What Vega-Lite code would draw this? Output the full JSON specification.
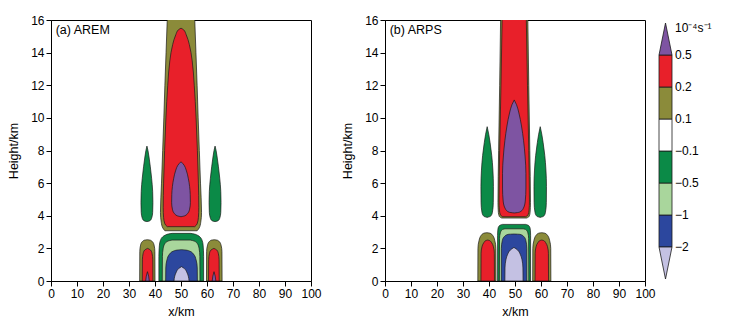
{
  "$schema": "https://vega.github.io/schema/vega-lite/v6.json",
  "padding": {"left": 7, "top": 13, "right": 0, "bottom": 0},
  "bounds": "full",
  "spacing": 1,
  "config": {
    "view": {"stroke": "#000", "strokeWidth": 1},
    "axis": {"labelFont": "Liberation Sans", "labelFontSize": 12, "titleFont": "Liberation Sans", "titleFontSize": 12.5, "titleFontWeight": "normal", "labelColor": "#000", "titleColor": "#000", "domainColor": "#000", "tickColor": "#000", "tickSize": 5, "grid": false, "labelPadding": 2, "labelOverlap": false, "labelFlush": false},
    "area": {"stroke": "#1a1a1a", "strokeWidth": 0.7},
    "text": {"font": "Liberation Sans", "fontSize": 12, "color": "#000"}
  },
  "datasets": {
    "s": [
      {"p":"a","id":"a1","c":"o","z":1,"y":3.08,"l":43.8,"r":56.2},
      {"p":"a","id":"a1","c":"o","z":1,"y":3.25,"l":43.0,"r":57.0},
      {"p":"a","id":"a1","c":"o","z":1,"y":3.6,"l":42.4,"r":57.6},
      {"p":"a","id":"a1","c":"o","z":1,"y":4.2,"l":42.1,"r":57.9},
      {"p":"a","id":"a1","c":"o","z":1,"y":6,"l":42.5,"r":57.5},
      {"p":"a","id":"a1","c":"o","z":1,"y":8,"l":42.95,"r":57.05},
      {"p":"a","id":"a1","c":"o","z":1,"y":10,"l":43.4,"r":56.6},
      {"p":"a","id":"a1","c":"o","z":1,"y":12,"l":43.8,"r":56.2},
      {"p":"a","id":"a1","c":"o","z":1,"y":14,"l":44.25,"r":55.75},
      {"p":"a","id":"a1","c":"o","z":1,"y":16,"l":44.7,"r":55.3},
      {"p":"a","id":"a1","c":"o","z":1,"y":16.5,"l":44.8,"r":55.2},

      {"p":"a","id":"a2","c":"r","z":2,"y":3.33,"l":44.7,"r":55.3},
      {"p":"a","id":"a2","c":"r","z":2,"y":3.5,"l":43.8,"r":56.2},
      {"p":"a","id":"a2","c":"r","z":2,"y":3.9,"l":43.3,"r":56.7},
      {"p":"a","id":"a2","c":"r","z":2,"y":4.5,"l":43.15,"r":56.85},
      {"p":"a","id":"a2","c":"r","z":2,"y":6,"l":43.3,"r":56.7},
      {"p":"a","id":"a2","c":"r","z":2,"y":8,"l":43.7,"r":56.3},
      {"p":"a","id":"a2","c":"r","z":2,"y":10,"l":44.2,"r":55.8},
      {"p":"a","id":"a2","c":"r","z":2,"y":12,"l":44.9,"r":55.1},
      {"p":"a","id":"a2","c":"r","z":2,"y":13.5,"l":45.7,"r":54.3},
      {"p":"a","id":"a2","c":"r","z":2,"y":14.5,"l":46.8,"r":53.2},
      {"p":"a","id":"a2","c":"r","z":2,"y":15.1,"l":48.0,"r":52.0},
      {"p":"a","id":"a2","c":"r","z":2,"y":15.4,"l":49.0,"r":51.0},
      {"p":"a","id":"a2","c":"r","z":2,"y":15.5,"l":50,"r":50},

      {"p":"a","id":"a3","c":"p","z":3,"y":3.94,"l":50,"r":50},
      {"p":"a","id":"a3","c":"p","z":3,"y":4.0,"l":48.5,"r":51.5},
      {"p":"a","id":"a3","c":"p","z":3,"y":4.15,"l":47.4,"r":52.6},
      {"p":"a","id":"a3","c":"p","z":3,"y":4.4,"l":46.7,"r":53.3},
      {"p":"a","id":"a3","c":"p","z":3,"y":4.8,"l":46.4,"r":53.6},
      {"p":"a","id":"a3","c":"p","z":3,"y":5.3,"l":46.45,"r":53.55},
      {"p":"a","id":"a3","c":"p","z":3,"y":5.8,"l":46.7,"r":53.3},
      {"p":"a","id":"a3","c":"p","z":3,"y":6.3,"l":47.2,"r":52.8},
      {"p":"a","id":"a3","c":"p","z":3,"y":6.8,"l":48.0,"r":52.0},
      {"p":"a","id":"a3","c":"p","z":3,"y":7.1,"l":48.8,"r":51.2},
      {"p":"a","id":"a3","c":"p","z":3,"y":7.31,"l":50,"r":50},

      {"p":"a","id":"a4","c":"g","z":1,"y":3.64,"l":36.9,"r":36.9},
      {"p":"a","id":"a4","c":"g","z":1,"y":3.7,"l":35.7,"r":38.1},
      {"p":"a","id":"a4","c":"g","z":1,"y":3.85,"l":35.1,"r":38.7},
      {"p":"a","id":"a4","c":"g","z":1,"y":4.2,"l":34.7,"r":39.1},
      {"p":"a","id":"a4","c":"g","z":1,"y":4.8,"l":34.6,"r":39.2},
      {"p":"a","id":"a4","c":"g","z":1,"y":5.5,"l":34.7,"r":39.1},
      {"p":"a","id":"a4","c":"g","z":1,"y":6.3,"l":35.1,"r":38.7},
      {"p":"a","id":"a4","c":"g","z":1,"y":7.0,"l":35.6,"r":38.2},
      {"p":"a","id":"a4","c":"g","z":1,"y":7.6,"l":36.1,"r":37.7},
      {"p":"a","id":"a4","c":"g","z":1,"y":8.0,"l":36.5,"r":37.3},
      {"p":"a","id":"a4","c":"g","z":1,"y":8.27,"l":36.9,"r":36.9},

      {"p":"a","id":"a5","c":"g","z":1,"y":3.64,"l":63.1,"r":63.1},
      {"p":"a","id":"a5","c":"g","z":1,"y":3.7,"l":61.9,"r":64.3},
      {"p":"a","id":"a5","c":"g","z":1,"y":3.85,"l":61.3,"r":64.9},
      {"p":"a","id":"a5","c":"g","z":1,"y":4.2,"l":60.9,"r":65.3},
      {"p":"a","id":"a5","c":"g","z":1,"y":4.8,"l":60.8,"r":65.4},
      {"p":"a","id":"a5","c":"g","z":1,"y":5.5,"l":60.9,"r":65.3},
      {"p":"a","id":"a5","c":"g","z":1,"y":6.3,"l":61.3,"r":64.9},
      {"p":"a","id":"a5","c":"g","z":1,"y":7.0,"l":61.8,"r":64.4},
      {"p":"a","id":"a5","c":"g","z":1,"y":7.6,"l":62.3,"r":63.9},
      {"p":"a","id":"a5","c":"g","z":1,"y":8.0,"l":62.7,"r":63.5},
      {"p":"a","id":"a5","c":"g","z":1,"y":8.27,"l":63.1,"r":63.1},

      {"p":"a","id":"b1","c":"g","z":1,"y":0,"l":41.5,"r":58.7},
      {"p":"a","id":"b1","c":"g","z":1,"y":1.5,"l":41.5,"r":58.7},
      {"p":"a","id":"b1","c":"g","z":1,"y":2.2,"l":41.7,"r":58.5},
      {"p":"a","id":"b1","c":"g","z":1,"y":2.5,"l":42.1,"r":58.1},
      {"p":"a","id":"b1","c":"g","z":1,"y":2.7,"l":42.9,"r":57.3},
      {"p":"a","id":"b1","c":"g","z":1,"y":2.8,"l":43.8,"r":56.4},
      {"p":"a","id":"b1","c":"g","z":1,"y":2.88,"l":45.1,"r":55.1},
      {"p":"a","id":"b1","c":"g","z":1,"y":2.92,"l":46.6,"r":53.6},

      {"p":"a","id":"b2","c":"lg","z":2,"y":0,"l":42.8,"r":57.3},
      {"p":"a","id":"b2","c":"lg","z":2,"y":1.5,"l":42.85,"r":57.25},
      {"p":"a","id":"b2","c":"lg","z":2,"y":2.0,"l":43.15,"r":56.95},
      {"p":"a","id":"b2","c":"lg","z":2,"y":2.3,"l":43.85,"r":56.25},
      {"p":"a","id":"b2","c":"lg","z":2,"y":2.45,"l":45.05,"r":55.05},
      {"p":"a","id":"b2","c":"lg","z":2,"y":2.51,"l":46.55,"r":53.55},

      {"p":"a","id":"b3","c":"b","z":3,"y":0,"l":44.1,"r":56.3},
      {"p":"a","id":"b3","c":"b","z":3,"y":0.8,"l":44.15,"r":56.25},
      {"p":"a","id":"b3","c":"b","z":3,"y":1.3,"l":44.6,"r":55.8},
      {"p":"a","id":"b3","c":"b","z":3,"y":1.65,"l":45.6,"r":54.8},
      {"p":"a","id":"b3","c":"b","z":3,"y":1.82,"l":46.9,"r":53.5},
      {"p":"a","id":"b3","c":"b","z":3,"y":1.9,"l":48.7,"r":51.7},
      {"p":"a","id":"b3","c":"b","z":3,"y":1.92,"l":50.2,"r":50.2},

      {"p":"a","id":"b4","c":"lv","z":4,"y":0,"l":47.3,"r":53.1},
      {"p":"a","id":"b4","c":"lv","z":4,"y":0.3,"l":47.6,"r":52.8},
      {"p":"a","id":"b4","c":"lv","z":4,"y":0.55,"l":48.2,"r":52.2},
      {"p":"a","id":"b4","c":"lv","z":4,"y":0.75,"l":49.0,"r":51.4},
      {"p":"a","id":"b4","c":"lv","z":4,"y":0.88,"l":50.2,"r":50.2},

      {"p":"a","id":"b5","c":"o","z":1,"y":0,"l":34.1,"r":40.0},
      {"p":"a","id":"b5","c":"o","z":1,"y":1.8,"l":34.15,"r":39.95},
      {"p":"a","id":"b5","c":"o","z":1,"y":2.2,"l":34.45,"r":39.65},
      {"p":"a","id":"b5","c":"o","z":1,"y":2.4,"l":35.05,"r":39.05},
      {"p":"a","id":"b5","c":"o","z":1,"y":2.5,"l":35.85,"r":38.25},
      {"p":"a","id":"b5","c":"o","z":1,"y":2.53,"l":37.05,"r":37.05},

      {"p":"a","id":"b6","c":"o","z":1,"y":0,"l":59.8,"r":65.8},
      {"p":"a","id":"b6","c":"o","z":1,"y":1.8,"l":59.85,"r":65.75},
      {"p":"a","id":"b6","c":"o","z":1,"y":2.2,"l":60.2,"r":65.4},
      {"p":"a","id":"b6","c":"o","z":1,"y":2.4,"l":60.8,"r":64.8},
      {"p":"a","id":"b6","c":"o","z":1,"y":2.5,"l":61.6,"r":64.0},
      {"p":"a","id":"b6","c":"o","z":1,"y":2.53,"l":62.8,"r":62.8},

      {"p":"a","id":"b7","c":"r","z":2,"y":0,"l":35.1,"r":39.2},
      {"p":"a","id":"b7","c":"r","z":2,"y":1.3,"l":35.15,"r":39.15},
      {"p":"a","id":"b7","c":"r","z":2,"y":1.7,"l":35.45,"r":38.85},
      {"p":"a","id":"b7","c":"r","z":2,"y":1.9,"l":36.05,"r":38.25},
      {"p":"a","id":"b7","c":"r","z":2,"y":2.0,"l":37.15,"r":37.15},

      {"p":"a","id":"b8","c":"r","z":2,"y":0,"l":60.6,"r":64.7},
      {"p":"a","id":"b8","c":"r","z":2,"y":1.3,"l":60.65,"r":64.65},
      {"p":"a","id":"b8","c":"r","z":2,"y":1.7,"l":60.95,"r":64.35},
      {"p":"a","id":"b8","c":"r","z":2,"y":1.9,"l":61.55,"r":63.75},
      {"p":"a","id":"b8","c":"r","z":2,"y":2.0,"l":62.65,"r":62.65},

      {"p":"a","id":"b9","c":"p","z":3,"y":0,"l":36.4,"r":37.8},
      {"p":"a","id":"b9","c":"p","z":3,"y":0.3,"l":36.65,"r":37.55},
      {"p":"a","id":"b9","c":"p","z":3,"y":0.57,"l":37.1,"r":37.1},

      {"p":"a","id":"b10","c":"p","z":3,"y":0,"l":62.0,"r":63.4},
      {"p":"a","id":"b10","c":"p","z":3,"y":0.3,"l":62.25,"r":63.15},
      {"p":"a","id":"b10","c":"p","z":3,"y":0.57,"l":62.7,"r":62.7},

      {"p":"b","id":"c1","c":"o","z":1,"y":3.86,"l":44.9,"r":54.5},
      {"p":"b","id":"c1","c":"o","z":1,"y":3.95,"l":44.0,"r":55.4},
      {"p":"b","id":"c1","c":"o","z":1,"y":4.2,"l":43.6,"r":55.8},
      {"p":"b","id":"c1","c":"o","z":1,"y":4.8,"l":43.45,"r":55.95},
      {"p":"b","id":"c1","c":"o","z":1,"y":8,"l":43.7,"r":55.7},
      {"p":"b","id":"c1","c":"o","z":1,"y":12,"l":44.1,"r":55.3},
      {"p":"b","id":"c1","c":"o","z":1,"y":16.5,"l":44.5,"r":54.9},

      {"p":"b","id":"c2","c":"r","z":2,"y":3.94,"l":45.3,"r":54.1},
      {"p":"b","id":"c2","c":"r","z":2,"y":4.05,"l":44.4,"r":55.0},
      {"p":"b","id":"c2","c":"r","z":2,"y":4.35,"l":44.0,"r":55.4},
      {"p":"b","id":"c2","c":"r","z":2,"y":4.9,"l":43.85,"r":55.55},
      {"p":"b","id":"c2","c":"r","z":2,"y":8,"l":44.1,"r":55.3},
      {"p":"b","id":"c2","c":"r","z":2,"y":12,"l":44.6,"r":54.8},
      {"p":"b","id":"c2","c":"r","z":2,"y":16.5,"l":45.1,"r":54.3},

      {"p":"b","id":"c3","c":"p","z":3,"y":4.17,"l":49.7,"r":49.7},
      {"p":"b","id":"c3","c":"p","z":3,"y":4.22,"l":47.7,"r":51.7},
      {"p":"b","id":"c3","c":"p","z":3,"y":4.42,"l":46.3,"r":53.1},
      {"p":"b","id":"c3","c":"p","z":3,"y":4.9,"l":45.45,"r":53.95},
      {"p":"b","id":"c3","c":"p","z":3,"y":5.7,"l":45.2,"r":54.2},
      {"p":"b","id":"c3","c":"p","z":3,"y":6.6,"l":45.2,"r":54.2},
      {"p":"b","id":"c3","c":"p","z":3,"y":7.6,"l":45.5,"r":53.9},
      {"p":"b","id":"c3","c":"p","z":3,"y":8.6,"l":46.1,"r":53.3},
      {"p":"b","id":"c3","c":"p","z":3,"y":9.5,"l":46.9,"r":52.5},
      {"p":"b","id":"c3","c":"p","z":3,"y":10.3,"l":47.9,"r":51.5},
      {"p":"b","id":"c3","c":"p","z":3,"y":10.8,"l":48.8,"r":50.6},
      {"p":"b","id":"c3","c":"p","z":3,"y":11.1,"l":49.7,"r":49.7},

      {"p":"b","id":"c4","c":"g","z":1,"y":3.9,"l":39.3,"r":39.3},
      {"p":"b","id":"c4","c":"g","z":1,"y":3.97,"l":38.0,"r":40.6},
      {"p":"b","id":"c4","c":"g","z":1,"y":4.2,"l":37.3,"r":41.3},
      {"p":"b","id":"c4","c":"g","z":1,"y":4.8,"l":36.95,"r":41.65},
      {"p":"b","id":"c4","c":"g","z":1,"y":5.8,"l":36.9,"r":41.7},
      {"p":"b","id":"c4","c":"g","z":1,"y":6.8,"l":37.1,"r":41.5},
      {"p":"b","id":"c4","c":"g","z":1,"y":7.7,"l":37.55,"r":41.05},
      {"p":"b","id":"c4","c":"g","z":1,"y":8.5,"l":38.2,"r":40.4},
      {"p":"b","id":"c4","c":"g","z":1,"y":9.0,"l":38.7,"r":39.9},
      {"p":"b","id":"c4","c":"g","z":1,"y":9.46,"l":39.3,"r":39.3},

      {"p":"b","id":"c5","c":"g","z":1,"y":3.9,"l":59.7,"r":59.7},
      {"p":"b","id":"c5","c":"g","z":1,"y":3.97,"l":58.4,"r":61.0},
      {"p":"b","id":"c5","c":"g","z":1,"y":4.2,"l":57.7,"r":61.7},
      {"p":"b","id":"c5","c":"g","z":1,"y":4.8,"l":57.35,"r":62.05},
      {"p":"b","id":"c5","c":"g","z":1,"y":5.8,"l":57.3,"r":62.1},
      {"p":"b","id":"c5","c":"g","z":1,"y":6.8,"l":57.5,"r":61.9},
      {"p":"b","id":"c5","c":"g","z":1,"y":7.7,"l":57.95,"r":61.45},
      {"p":"b","id":"c5","c":"g","z":1,"y":8.5,"l":58.6,"r":60.8},
      {"p":"b","id":"c5","c":"g","z":1,"y":9.0,"l":59.1,"r":60.3},
      {"p":"b","id":"c5","c":"g","z":1,"y":9.46,"l":59.7,"r":59.7},

      {"p":"b","id":"d1","c":"g","z":1,"y":0,"l":43.3,"r":56.0},
      {"p":"b","id":"d1","c":"g","z":1,"y":2.8,"l":43.3,"r":56.0},
      {"p":"b","id":"d1","c":"g","z":1,"y":3.2,"l":43.45,"r":55.85},
      {"p":"b","id":"d1","c":"g","z":1,"y":3.4,"l":44.05,"r":55.25},
      {"p":"b","id":"d1","c":"g","z":1,"y":3.47,"l":45.15,"r":54.15},

      {"p":"b","id":"d2","c":"lg","z":2,"y":0,"l":44.0,"r":55.3},
      {"p":"b","id":"d2","c":"lg","z":2,"y":2.6,"l":44.05,"r":55.25},
      {"p":"b","id":"d2","c":"lg","z":2,"y":2.95,"l":44.35,"r":54.95},
      {"p":"b","id":"d2","c":"lg","z":2,"y":3.15,"l":45.15,"r":54.15},
      {"p":"b","id":"d2","c":"lg","z":2,"y":3.2,"l":46.15,"r":53.15},

      {"p":"b","id":"d3","c":"b","z":3,"y":0,"l":44.75,"r":54.55},
      {"p":"b","id":"d3","c":"b","z":3,"y":2.0,"l":44.75,"r":54.55},
      {"p":"b","id":"d3","c":"b","z":3,"y":2.5,"l":45.15,"r":54.15},
      {"p":"b","id":"d3","c":"b","z":3,"y":2.75,"l":46.05,"r":53.25},
      {"p":"b","id":"d3","c":"b","z":3,"y":2.86,"l":47.45,"r":51.85},
      {"p":"b","id":"d3","c":"b","z":3,"y":2.88,"l":49.65,"r":49.65},

      {"p":"b","id":"d4","c":"lv","z":4,"y":0,"l":46.1,"r":53.1},
      {"p":"b","id":"d4","c":"lv","z":4,"y":0.8,"l":46.15,"r":53.05},
      {"p":"b","id":"d4","c":"lv","z":4,"y":1.3,"l":46.5,"r":52.7},
      {"p":"b","id":"d4","c":"lv","z":4,"y":1.65,"l":47.2,"r":52.0},
      {"p":"b","id":"d4","c":"lv","z":4,"y":1.9,"l":48.2,"r":51.0},
      {"p":"b","id":"d4","c":"lv","z":4,"y":2.06,"l":49.6,"r":49.6},

      {"p":"b","id":"d5","c":"o","z":1,"y":0,"l":35.7,"r":42.7},
      {"p":"b","id":"d5","c":"o","z":1,"y":2.0,"l":35.75,"r":42.65},
      {"p":"b","id":"d5","c":"o","z":1,"y":2.5,"l":36.2,"r":42.2},
      {"p":"b","id":"d5","c":"o","z":1,"y":2.8,"l":37.0,"r":41.4},
      {"p":"b","id":"d5","c":"o","z":1,"y":2.93,"l":38.0,"r":40.4},
      {"p":"b","id":"d5","c":"o","z":1,"y":2.96,"l":39.2,"r":39.2},

      {"p":"b","id":"d6","c":"o","z":1,"y":0,"l":56.8,"r":63.8},
      {"p":"b","id":"d6","c":"o","z":1,"y":2.0,"l":56.85,"r":63.75},
      {"p":"b","id":"d6","c":"o","z":1,"y":2.5,"l":57.3,"r":63.3},
      {"p":"b","id":"d6","c":"o","z":1,"y":2.8,"l":58.1,"r":62.5},
      {"p":"b","id":"d6","c":"o","z":1,"y":2.93,"l":59.1,"r":61.5},
      {"p":"b","id":"d6","c":"o","z":1,"y":2.96,"l":60.3,"r":60.3},

      {"p":"b","id":"d7","c":"r","z":2,"y":0,"l":36.9,"r":42.1},
      {"p":"b","id":"d7","c":"r","z":2,"y":1.7,"l":36.95,"r":42.05},
      {"p":"b","id":"d7","c":"r","z":2,"y":2.1,"l":37.3,"r":41.7},
      {"p":"b","id":"d7","c":"r","z":2,"y":2.35,"l":38.0,"r":41.0},
      {"p":"b","id":"d7","c":"r","z":2,"y":2.48,"l":38.8,"r":40.2},
      {"p":"b","id":"d7","c":"r","z":2,"y":2.51,"l":39.5,"r":39.5},

      {"p":"b","id":"d8","c":"r","z":2,"y":0,"l":57.7,"r":62.9},
      {"p":"b","id":"d8","c":"r","z":2,"y":1.7,"l":57.75,"r":62.85},
      {"p":"b","id":"d8","c":"r","z":2,"y":2.1,"l":58.1,"r":62.5},
      {"p":"b","id":"d8","c":"r","z":2,"y":2.35,"l":58.8,"r":61.8},
      {"p":"b","id":"d8","c":"r","z":2,"y":2.48,"l":59.6,"r":61.0},
      {"p":"b","id":"d8","c":"r","z":2,"y":2.51,"l":60.3,"r":60.3}
    ]
  },
  "hconcat": [
    {
      "bounds": "flush",
      "spacing": 74,
      "hconcat": [
        {
          "width": 260, "height": 261,
          "encoding": {
            "y": {"field": "y", "type": "quantitative", "scale": {"domain": [0, 16], "nice": false}, "axis": {"values": [0,2,4,6,8,10,12,14,16], "title": "Height/km", "titlePadding": 10}},
            "x": {"field": "l", "type": "quantitative", "stack": null, "scale": {"domain": [0, 100], "nice": false}, "axis": {"values": [0,10,20,30,40,50,60,70,80,90,100], "title": "x/km", "titlePadding": 6}}
          },
          "layer": [
            {"data": {"name": "s"}, "transform": [{"filter": "datum.p == 'a' && datum.z == 1"}], "mark": {"type": "area", "orient": "horizontal", "interpolate": "monotone", "clip": true},
             "encoding": {"x2": {"field": "r"}, "detail": {"field": "id"}, "color": {"field": "c", "type": "nominal", "scale": {"domain": ["lv","b","lg","g","w","o","r","p"], "range": ["#c4c1e3","#2c479e","#a9d69c","#0b8a47","#ffffff","#8b8b3a","#e8202a","#7e54a2"]}, "legend": null}}},
            {"data": {"name": "s"}, "transform": [{"filter": "datum.p == 'a' && datum.z == 2"}], "mark": {"type": "area", "orient": "horizontal", "interpolate": "monotone", "clip": true},
             "encoding": {"x2": {"field": "r"}, "detail": {"field": "id"}, "color": {"field": "c", "type": "nominal", "legend": null}}},
            {"data": {"name": "s"}, "transform": [{"filter": "datum.p == 'a' && datum.z == 3"}], "mark": {"type": "area", "orient": "horizontal", "interpolate": "monotone", "clip": true},
             "encoding": {"x2": {"field": "r"}, "detail": {"field": "id"}, "color": {"field": "c", "type": "nominal", "legend": null}}},
            {"data": {"name": "s"}, "transform": [{"filter": "datum.p == 'a' && datum.z == 4"}], "mark": {"type": "area", "orient": "horizontal", "interpolate": "monotone", "clip": true},
             "encoding": {"x2": {"field": "r"}, "detail": {"field": "id"}, "color": {"field": "c", "type": "nominal", "legend": null}}},
            {"data": {"values": [{"l": 1.8, "y": 15.4, "t": "(a)  AREM"}]}, "mark": {"type": "text", "align": "left", "baseline": "middle", "fontSize": 12.5},
             "encoding": {"text": {"field": "t"}}}
          ]
        },
        {
          "width": 260, "height": 261,
          "encoding": {
            "y": {"field": "y", "type": "quantitative", "scale": {"domain": [0, 16], "nice": false}, "axis": {"values": [0,2,4,6,8,10,12,14,16], "title": "Height/km", "titlePadding": 10}},
            "x": {"field": "l", "type": "quantitative", "stack": null, "scale": {"domain": [0, 100], "nice": false}, "axis": {"values": [0,10,20,30,40,50,60,70,80,90,100], "title": "x/km", "titlePadding": 6}}
          },
          "layer": [
            {"data": {"name": "s"}, "transform": [{"filter": "datum.p == 'b' && datum.z == 1"}], "mark": {"type": "area", "orient": "horizontal", "interpolate": "monotone", "clip": true},
             "encoding": {"x2": {"field": "r"}, "detail": {"field": "id"}, "color": {"field": "c", "type": "nominal", "legend": null}}},
            {"data": {"name": "s"}, "transform": [{"filter": "datum.p == 'b' && datum.z == 2"}], "mark": {"type": "area", "orient": "horizontal", "interpolate": "monotone", "clip": true},
             "encoding": {"x2": {"field": "r"}, "detail": {"field": "id"}, "color": {"field": "c", "type": "nominal", "legend": null}}},
            {"data": {"name": "s"}, "transform": [{"filter": "datum.p == 'b' && datum.z == 3"}], "mark": {"type": "area", "orient": "horizontal", "interpolate": "monotone", "clip": true},
             "encoding": {"x2": {"field": "r"}, "detail": {"field": "id"}, "color": {"field": "c", "type": "nominal", "legend": null}}},
            {"data": {"name": "s"}, "transform": [{"filter": "datum.p == 'b' && datum.z == 4"}], "mark": {"type": "area", "orient": "horizontal", "interpolate": "monotone", "clip": true},
             "encoding": {"x2": {"field": "r"}, "detail": {"field": "id"}, "color": {"field": "c", "type": "nominal", "legend": null}}},
            {"data": {"values": [{"l": 1.8, "y": 15.4, "t": "(b)  ARPS"}]}, "mark": {"type": "text", "align": "left", "baseline": "middle", "fontSize": 12.5},
             "encoding": {"text": {"field": "t"}}}
          ]
        }
      ]
    },
    {
      "width": 13, "height": 261,
      "view": {"stroke": null},
      "encoding": {
        "y": {"field": "a", "type": "quantitative", "scale": {"domain": [-0.0625, 8.094], "nice": false, "zero": false}, "axis": null}
      },
      "layer": [
        {"data": {"values": [
          {"a": 1, "b": 2, "c": "b"}, {"a": 2, "b": 3, "c": "lg"}, {"a": 3, "b": 4, "c": "g"},
          {"a": 4, "b": 5, "c": "w"}, {"a": 5, "b": 6, "c": "o"}, {"a": 6, "b": 7, "c": "r"}]},
         "mark": {"type": "rect", "stroke": "#1a1a1a", "strokeWidth": 0.8},
         "encoding": {"y2": {"field": "b"}, "color": {"field": "c", "type": "nominal", "legend": null}}},
        {"data": {"values": [
          {"a": 0, "l": 0.5, "r": 0.5, "id": "bot", "c": "lv"}, {"a": 1, "l": 0, "r": 1, "id": "bot", "c": "lv"},
          {"a": 7, "l": 0, "r": 1, "id": "top", "c": "p"}, {"a": 8, "l": 0.5, "r": 0.5, "id": "top", "c": "p"}]},
         "mark": {"type": "area", "orient": "horizontal", "interpolate": "linear", "strokeWidth": 0.8},
         "encoding": {"x": {"field": "l", "type": "quantitative", "stack": null, "scale": {"domain": [0, 1], "nice": false}, "axis": null}, "x2": {"field": "r"}, "detail": {"field": "id"}, "color": {"field": "c", "type": "nominal", "legend": null}}},
        {"data": {"values": [
          {"a": 1, "t": "−2"}, {"a": 2, "t": "−1"}, {"a": 3, "t": "−0.5"}, {"a": 4, "t": "−0.1"},
          {"a": 5, "t": "0.1"}, {"a": 6, "t": "0.2"}, {"a": 7, "t": "0.5"}, {"a": 7.84, "t": "10⁻⁴s⁻¹"}]},
         "mark": {"type": "text", "align": "left", "baseline": "middle", "dx": 3, "fontSize": 12},
         "encoding": {"x": {"datum": 1, "type": "quantitative"}, "text": {"field": "t"}}}
      ]
    }
  ]
}
